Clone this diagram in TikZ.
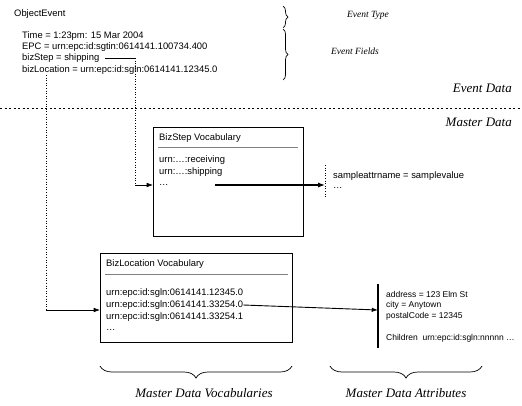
\documentclass[tikz,border=0pt]{standalone}
\usepackage{fontspec}
\setmainfont{Liberation Sans}
\newfontfamily\capfont{Liberation Serif}
\usetikzlibrary{arrows.meta,positioning,calc,decorations.pathreplacing}

\begin{document}
\begin{tikzpicture}[
    x=1pt, y=-1pt,
    font=\fontsize{9.4}{11}\selectfont,
    txt/.style={anchor=west, inner sep=0pt},
    attr/.style={txt, font=\fontsize{8.5}{10}\selectfont},
    vocab/.style={draw, line width=1.2pt, anchor=north west, inner sep=0pt},
    rulel/.style={draw=gray, line width=1pt},
    smallcap/.style={font=\capfont\itshape\fontsize{9.5}{11}\selectfont, inner sep=0pt},
    bigcap/.style={font=\capfont\itshape\fontsize{13}{15}\selectfont, inner sep=0pt},
    dotline/.style={dotted, line width=0.6pt},
    arrow/.style={-{Latex[length=2.2mm, width=1.6mm]}, line width=0.6pt},
    thickarrow/.style={-{Latex[length=2.4mm, width=1.8mm]}, line width=1.4pt},
    brace/.style={decorate, decoration={brace, amplitude=5pt}, line width=0.7pt},
    bbrace/.style={decorate, decoration={brace, amplitude=12pt}, line width=0.7pt}
  ]
  \useasboundingbox (0,0) rectangle (522,405);

  % event data
  \node[txt] (oe) at (14,14) {ObjectEvent};
  \node[txt] (ftime) at (22,36) {Time = 1:23pm: 15 Mar 2004};
  \node[txt] (fepc) at (22,47) {EPC = urn:epc:id:sgtin:0614141.100734.400};
  \node[txt] (fstep) at (22,58) {bizStep = shipping};
  \node[txt] (floc) at (22,70) {bizLocation = urn:epc:id:sgln:0614141.12345.0};

  \draw[brace] (283,6) -- (283,28);
  \draw[brace] (283,29) -- (283,80);
  \node[smallcap] (etype) at (368,15) {Event Type};
  \node[smallcap] (efields) at (355,51) {Event Fields};

  \node[bigcap, anchor=east] (evdata) at (512,88) {Event Data};
  \coordinate (sepl) at (0,108);
  \coordinate (sepr) at (522,108);
  \draw[dash pattern=on 2pt off 2.5pt, line width=0.6pt] (sepl) -- (sepr);
  \node[bigcap, anchor=east] (mdata) at (512,122) {Master Data};

  % bizStep vocabulary
  \node[vocab, minimum width=150pt, minimum height=109pt] (bs) at (153,127) {};
  \node[txt] (bstitle) at (159,138) {BizStep Vocabulary};
  \draw[rulel] ($(bs.north west)+(5,20)$) -- ($(bs.north east)+(-6,20)$);
  \node[txt] (bsrecv) at (159,160) {urn:\ldots:receiving};
  \node[txt] (bsship) at (159,172) {urn:\ldots:shipping};
  \node[txt] (bsmore) at (159,185) {\ldots};

  \coordinate (satop) at (325,165);
  \coordinate (sabot) at (325,197);
  \draw[dotline] (satop) -- (sabot);
  \node[txt] (sattr) at (333,176) {sampleattrname = samplevalue};
  \node[txt] (smore) at (333,188) {\ldots};
  \coordinate (bsout) at (215,185);
  \draw[thickarrow] (bsout) -- (bsout -| satop);

  % bizLocation vocabulary
  \node[vocab, minimum width=192pt, minimum height=89pt] (bl) at (100,253) {};
  \node[txt] (bltitle) at (106,264) {BizLocation Vocabulary};
  \draw[rulel] ($(bl.north west)+(5,21)$) -- ($(bl.north east)+(-5,21)$);
  \node[txt] (bla) at (106,293) {urn:epc:id:sgln:0614141.12345.0};
  \node[txt] (blb) at (106,305) {urn:epc:id:sgln:0614141.33254.0};
  \node[txt] (blc) at (106,317) {urn:epc:id:sgln:0614141.33254.1};
  \node[txt] (blmore) at (106,330) {\ldots};

  \coordinate (attop) at (378,284);
  \coordinate (atbot) at (378,348);
  \draw[line width=1.2pt] (attop) -- (atbot);
  \node[attr] (aaddr) at (386,294) {address = 123 Elm St};
  \node[attr] (acity) at (386,305) {city = Anytown};
  \node[attr] (apost) at (386,316) {postalCode = 12345};
  \node[attr] (achild) at (386,338) {Children\ \ urn:epc:id:sgln:nnnnn \ldots};
  \coordinate (atin) at (378,310);
  \draw[arrow, line width=0.9pt] (blb.east) -- (atin);

  % links from the event fields
  \coordinate (stepturn) at (135,58);
  \draw[line width=0.7pt] (fstep.east) ++(6,0) -- (stepturn);
  \draw[dotline] (stepturn) -- (stepturn |- bsout);
  \draw[arrow] (stepturn |- bsout) -- (bs.west |- bsout);

  \coordinate (locdrop) at (46,75);
  \draw[dotline] (locdrop) -- (locdrop |- atin);
  \draw[arrow] (locdrop |- atin) -- (bl.west |- atin);

  % bottom braces
  \draw[bbrace] (292,366) -- (100,366);
  \node[bigcap] (bvoc) at (204,393) {Master Data Vocabularies};
  \draw[bbrace] (482,366) -- (330,366);
  \node[bigcap] (battr) at (406,393) {Master Data Attributes};
\end{tikzpicture}
\end{document}
